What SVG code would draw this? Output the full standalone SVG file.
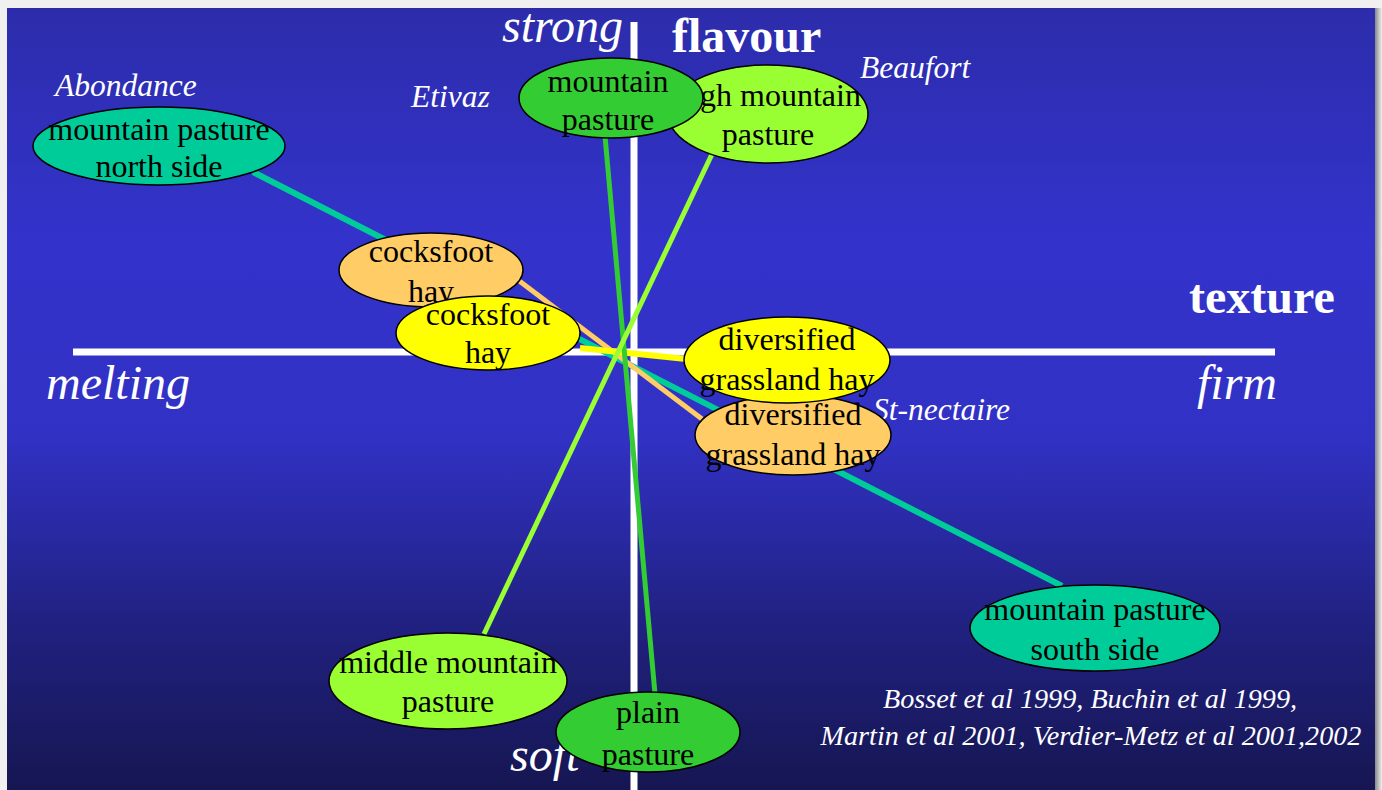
<svg xmlns="http://www.w3.org/2000/svg" width="1382" height="790" viewBox="0 0 1382 790">
<defs>
<linearGradient id="bg" x1="0" y1="0" x2="0" y2="1">
<stop offset="0" stop-color="#2c2cab"/>
<stop offset="0.3" stop-color="#3333cc"/>
<stop offset="0.55" stop-color="#3131c4"/>
<stop offset="0.8" stop-color="#20207e"/>
<stop offset="1" stop-color="#161652"/>
</linearGradient>
<linearGradient id="sh" x1="0" y1="0" x2="1" y2="0">
<stop offset="0" stop-color="#888"/>
<stop offset="1" stop-color="#f0f0f0"/>
</linearGradient>
<style>
.node ellipse{stroke:#000;stroke-width:1.5}
.node text{font-family:"Liberation Serif","Times New Roman",serif;font-size:32px;fill:#000;text-anchor:middle}
.ax{stroke:#fff;stroke-width:7}
.lbl{font-family:"Liberation Serif","Times New Roman",serif;fill:#fff;font-style:italic}
.big{font-size:48px}
.bold{font-family:"Liberation Serif","Times New Roman",serif;fill:#fff;font-weight:bold;font-size:48px}
.ch{font-size:31.5px}
.cite{font-size:28.2px;text-anchor:middle}
.conn line{stroke-linecap:butt}
</style>
</defs>
<rect x="0" y="0" width="1382" height="790" fill="#f0f0f0"/>
<rect x="1375" y="8" width="7" height="782" fill="url(#sh)"/>
<rect x="7" y="8" width="1368" height="782" fill="url(#bg)"/>
<g id="axes">
<line class="ax" x1="73" y1="352" x2="1275" y2="352"/>
<line class="ax" x1="634" y1="22" x2="634" y2="790"/>
</g>
<g id="axis-labels">
<text class="lbl big" x="502" y="42">strong</text>
<text class="bold" x="672" y="52">flavour</text>
<text class="bold" x="1189" y="313">texture</text>
<text class="lbl big" x="46" y="399">melting</text>
<text class="lbl big" x="1197" y="399">firm</text>
<text class="lbl big" x="510" y="771">soft</text>
</g>
<g id="cheese-labels">
<text class="lbl ch" x="55" y="96">Abondance</text>
<text class="lbl ch" x="411" y="107">Etivaz</text>
<text class="lbl ch" x="860" y="78">Beaufort</text>
<text class="lbl ch" x="873" y="420">St-nectaire</text>
</g>
<g id="citation">
<text class="lbl cite" x="1090" y="708">Bosset et al 1999, Buchin et al 1999,</text>
<text class="lbl cite" x="1091" y="745">Martin et al 2001, Verdier-Metz et al 2001,2002</text>
</g>
<g id="connectors" class="conn">
<line x1="253" y1="172" x2="1062" y2="586" stroke="#00cc99" stroke-width="6"/>
<line x1="518" y1="280" x2="702" y2="419" stroke="#ffcc66" stroke-width="5"/>
<line x1="580" y1="348" x2="686" y2="359" stroke="#ffff00" stroke-width="6"/>
<line x1="605" y1="136" x2="655" y2="694" stroke="#33cc33" stroke-width="5"/>
<line x1="713" y1="152" x2="484" y2="634" stroke="#99ff33" stroke-width="5"/>
</g>
<g id="n-north" class="node">
<ellipse cx="159" cy="146" rx="126" ry="39" fill="#00cc99"/>
<text x="159" y="140">mountain pasture</text>
<text x="159" y="177">north side</text>
</g>
<g id="n-highmountain" class="node">
<ellipse cx="768" cy="114" rx="100" ry="49" fill="#99ff33"/>
<text x="768" y="106">high mountain</text>
<text x="768" y="145">pasture</text>
</g>
<g id="n-mountain" class="node">
<ellipse cx="611" cy="98" rx="92" ry="40" fill="#33cc33"/>
<text x="608" y="92">mountain</text>
<text x="608" y="130">pasture</text>
</g>
<g id="n-cocksfoot-orange" class="node">
<ellipse cx="431" cy="270" rx="92" ry="37" fill="#ffcc66"/>
<text x="431" y="262">cocksfoot</text>
<text x="431" y="302">hay</text>
</g>
<g id="n-cocksfoot-yellow" class="node">
<ellipse cx="488" cy="333" rx="92" ry="37" fill="#ffff00"/>
<text x="488" y="325">cocksfoot</text>
<text x="488" y="363">hay</text>
</g>
<g id="n-diversified-orange" class="node">
<ellipse cx="793" cy="435" rx="98" ry="40" fill="#ffcc66"/>
<text x="793" y="425">diversified</text>
<text x="793" y="465">grassland hay</text>
</g>
<g id="n-diversified-yellow" class="node">
<ellipse cx="787" cy="360" rx="103" ry="43" fill="#ffff00"/>
<text x="787" y="350">diversified</text>
<text x="787" y="390">grassland hay</text>
</g>
<g id="n-south" class="node">
<ellipse cx="1095" cy="628" rx="125" ry="43" fill="#00cc99"/>
<text x="1095" y="620">mountain pasture</text>
<text x="1095" y="660">south side</text>
</g>
<g id="n-middlemountain" class="node">
<ellipse cx="448" cy="681" rx="119" ry="48" fill="#99ff33"/>
<text x="448" y="673">middle mountain</text>
<text x="448" y="712">pasture</text>
</g>
<g id="n-plain" class="node">
<ellipse cx="648" cy="732" rx="92" ry="40" fill="#33cc33"/>
<text x="648" y="723">plain</text>
<text x="648" y="765">pasture</text>
</g>
</svg>
